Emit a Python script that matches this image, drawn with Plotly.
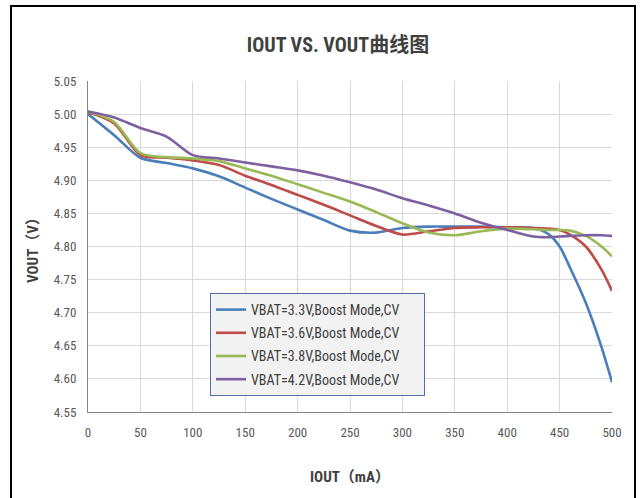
import plotly.graph_objects as go

iout = [0, 25, 50, 75, 100, 125, 150, 175, 200, 225, 250, 275, 300, 325, 350, 375, 400, 425, 440, 450, 460, 475, 490, 500]

v33 = [5.000, 4.968, 4.934, 4.926, 4.918, 4.906, 4.889, 4.872, 4.856, 4.840, 4.824, 4.821, 4.828, 4.830, 4.830, 4.830, 4.829, 4.828, 4.818, 4.800, 4.768, 4.715, 4.648, 4.595]
v36 = [5.003, 4.986, 4.938, 4.934, 4.930, 4.923, 4.907, 4.893, 4.878, 4.863, 4.847, 4.831, 4.818, 4.823, 4.828, 4.829, 4.829, 4.828, 4.827, 4.825, 4.818, 4.800, 4.765, 4.733]
v38 = [5.004, 4.988, 4.941, 4.935, 4.933, 4.929, 4.918, 4.907, 4.894, 4.881, 4.868, 4.852, 4.835, 4.821, 4.817, 4.823, 4.827, 4.826, 4.825, 4.825, 4.824, 4.816, 4.800, 4.785]
v42 = [5.004, 4.995, 4.979, 4.966, 4.938, 4.933, 4.927, 4.921, 4.915, 4.907, 4.897, 4.886, 4.873, 4.862, 4.850, 4.836, 4.825, 4.815, 4.814, 4.815, 4.816, 4.817, 4.817, 4.816]

names = ["VBAT=3.3V,Boost Mode,CV", "VBAT=3.6V,Boost Mode,CV",
         "VBAT=3.8V,Boost Mode,CV", "VBAT=4.2V,Boost Mode,CV"]
colors = ["#4A7EBB", "#BE4B48", "#98B954", "#7D60A0"]
series = [v33, v36, v38, v42]

x_ticks = [0, 50, 100, 150, 200, 250, 300, 350, 400, 450, 500]
y_ticks = [4.55, 4.60, 4.65, 4.70, 4.75, 4.80, 4.85, 4.90, 4.95, 5.00, 5.05]

FONT = "Liberation Sans Narrow, Roboto Condensed, Arial Narrow, Noto Sans CJK SC, sans-serif"

fig = go.Figure()
for i, (n, c, s) in enumerate(zip(names, colors, series)):
    fig.add_trace(go.Scatter(x=iout, y=s, name=n + "\u00a0" * 6, mode="lines",
                             legendgroup="g%d" % i,
                             line=dict(color=c, width=2.6, shape="spline", smoothing=0.8)))

L, R, T, B = 88, 28, 81, 86
W, H = 640, 498
pw, ph = W - L - R, H - T - B

def px(xp):
    return (xp - L) / pw

def py(yp):
    return (H - B - yp) / ph

fig.update_layout(
    width=W, height=H,
    margin=dict(l=L, r=R, t=T, b=B),
    paper_bgcolor="white", plot_bgcolor="white",
    font=dict(family=FONT, color="#595959", size=13),
    title=dict(text="<b>IOUT VS. VOUT曲线图</b>", x=(338) / W, xanchor="center",
               y=1 - 45 / H, yanchor="middle",
               font=dict(family=FONT, size=20, color="#404040")),
    xaxis=dict(range=[0, 500], tickvals=x_ticks, ticktext=[str(v) for v in x_ticks],
               showgrid=True, gridcolor="#D9D9D9", gridwidth=1,
               showline=True, linecolor="#868686", linewidth=1,
               zeroline=False, ticks="", ticklabelstandoff=8,
               tickfont=dict(size=13, color="#595959"),
               title=dict(text="<b>IOUT（mA）</b>", standoff=32,
                          font=dict(size=15, color="#404040"))),
    yaxis=dict(range=[4.55, 5.05], tickvals=y_ticks, ticktext=["%.2f" % v for v in y_ticks],
               showgrid=True, gridcolor="#D9D9D9", gridwidth=1,
               showline=True, linecolor="#868686", linewidth=1,
               zeroline=False, ticks="", ticklabelstandoff=8,
               tickfont=dict(size=13, color="#595959"),
               title=dict(text="<b>VOUT（V）</b>", standoff=11,
                          font=dict(size=15, color="#404040"))),
    legend=dict(x=px(210), y=py(293), xanchor="left", yanchor="top",
                bgcolor="#F2F2F2", bordercolor="#4F6FA8", borderwidth=1,
                font=dict(size=14, color="#404040", family=FONT),
                itemwidth=30, tracegroupgap=2, traceorder="grouped"),
    showlegend=True,
)

fig.add_shape(type="rect", xref="paper", yref="paper",
              x0=px(11), x1=px(635), y0=py(520), y1=py(6),
              line=dict(color="black", width=2), fillcolor="rgba(0,0,0,0)", layer="above")

fig.write_html("out.html", config={"displayModeBar": False},
               post_script="document.body.style.margin='0';document.body.style.padding='0';")
